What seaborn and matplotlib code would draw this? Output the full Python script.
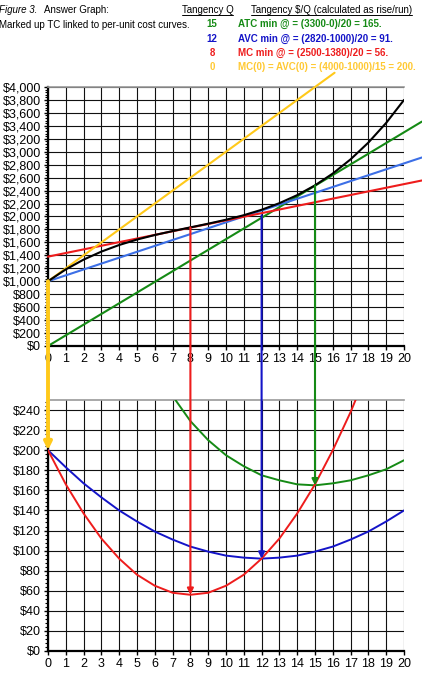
import matplotlib
matplotlib.use("Agg")
import matplotlib.pyplot as plt
from matplotlib.patches import ConnectionPatch
from matplotlib.lines import Line2D
from matplotlib.ticker import MultipleLocator, FuncFormatter
import numpy as np
import pandas as pd
import seaborn as sns

# ---------------- data ----------------
Q = list(range(0, 21))
TC = [1000, 1183, 1334, 1458, 1560, 1644, 1714, 1775, 1832, 1889, 1950,
      2020, 2104, 2206, 2330, 2481, 2664, 2883, 3142, 3446, 3800]
MC = [200, 166, 137, 112, 92, 76, 65, 58, 56, 58, 65, 76, 92, 112, 137,
      166, 200, 238, 281, 329, 380]
AVC = [200, 183, 167, 153, 140, 129, 119, 111, 104, 99, 95, 93, 92, 93, 95,
       99, 104, 111, 119, 129, 140]
Q_atc = [7, 8, 9, 10, 11, 12, 13, 14, 15, 16, 17, 18, 19, 20]
ATC = [254, 229, 210, 195, 184, 175, 170, 166, 165, 167, 170, 175, 181, 190]

# tangent (rise/run) lines on the TC panel: endpoints
tan_x = [0, 21]
atc_line = [0, 3465]
avc_line = [1000, 2911]
mc_line = [1380, 2556]
mc0_x = [0, 16.1]
mc0_line = [1000, 4220]

# drop lines: (Q, TC-panel value, per-unit value)
drops = [(8, 1832, 56), (12, 2020, 92), (15, 2481, 165), (0, 1000, 200)]

header_rows = [("15", "ATC min @ = (3300-0)/20 = 165."),
               ("12", "AVC min @ = (2820-1000)/20 = 91."),
               ("8", "MC min @ = (2500-1380)/20 = 56."),
               ("0", "MC(0) = AVC(0) = (4000-1000)/15 = 200.")]

x_ticks = list(range(0, 21))

# ---------------- style ----------------
sns.set_theme(style="white")
plt.rcParams["font.family"] = ["Liberation Sans", "DejaVu Sans"]
plt.rcParams["text.color"] = "black"

RED = "#EE1C1C"
GREEN = "#158A15"
DBLUE = "#1414C8"
LBLUE = "#3C6FE6"
YEL = "#FFC91A"
YEL_T = "#FFC933"

W, H = 422, 681
fig = plt.figure(figsize=(W / 100, H / 100), dpi=100)
fig.patch.set_facecolor("white")


def fx(px):
    return px / W


def fy(py):
    return 1 - py / H


ax1 = fig.add_axes([fx(48), fy(346), (404 - 48) / W, (346 - 87) / H])
ax2 = fig.add_axes([fx(48), fy(651), (404 - 48) / W, (651 - 400) / H])

money = FuncFormatter(lambda v, p: "\\$" + f"{v:,.0f}")

for ax, ymax, major, minor in [(ax1, 4000, 200, 40), (ax2, 250, 20, 4)]:
    ax.set_facecolor("white")
    ax.set_xlim(0, 20)
    ax.set_ylim(0, ymax)
    ax.set_xticks(x_ticks)
    ax.yaxis.set_major_locator(MultipleLocator(major))
    ax.yaxis.set_minor_locator(MultipleLocator(minor))
    ax.yaxis.set_major_formatter(money)
    ax.grid(True, which="major", color="#111111", linewidth=0.8)
    ax.set_axisbelow(True)
    ax.spines["right"].set_visible(False)
    ax.spines["top"].set_color("#9a9a9a")
    ax.spines["top"].set_linewidth(1.2)
    ax.spines["left"].set_color("black")
    ax.spines["bottom"].set_color("black")
    ax.spines["left"].set_linewidth(1.6)
    ax.spines["bottom"].set_linewidth(1.6)
    ax.tick_params(axis="both", which="major", direction="out", length=3,
                   width=1, color="black", labelsize=9, pad=2,
                   labelcolor="black", left=True, bottom=True)
    ax.tick_params(axis="y", which="minor", direction="out", length=2,
                   width=0.8, color="black", left=True)

# top panel: TC and tangent lines
sns.lineplot(x=tan_x, y=atc_line, ax=ax1, color=GREEN, lw=1.5, clip_on=False, zorder=3)
sns.lineplot(x=tan_x, y=avc_line, ax=ax1, color=LBLUE, lw=1.5, clip_on=False, zorder=3)
sns.lineplot(x=tan_x, y=mc_line, ax=ax1, color=RED, lw=1.5, clip_on=False, zorder=3)
sns.lineplot(x=mc0_x, y=mc0_line, ax=ax1, color=YEL, lw=1.5, clip_on=False, zorder=3)
sns.lineplot(x=Q, y=TC, ax=ax1, color="black", lw=1.5, zorder=4)

# bottom panel: per-unit cost curves
sns.lineplot(x=Q_atc, y=ATC, ax=ax2, color=GREEN, lw=1.4, zorder=3)
sns.lineplot(x=Q, y=AVC, ax=ax2, color=DBLUE, lw=1.4, zorder=3)
sns.lineplot(x=Q, y=MC, ax=ax2, color=RED, lw=1.4, zorder=3)

for ax in (ax1, ax2):
    ax.set_xlim(0, 20)
    ax.set_xlabel("")
    ax.set_ylabel("")
ax1.set_ylim(0, 4000)
ax2.set_ylim(0, 250)

# drop arrows between the panels
dcols = [RED, DBLUE, GREEN, YEL]
dlw = [1.5, 1.5, 1.5, 2.8]
for (q, top_v, bot_v), c, lw in zip(drops, dcols, dlw):
    con = ConnectionPatch(xyA=(q, top_v), coordsA=ax1.transData,
                          xyB=(q, bot_v), coordsB=ax2.transData,
                          arrowstyle="-|>", mutation_scale=9 if lw < 2 else 11,
                          shrinkA=0, shrinkB=0, color=c, lw=lw, zorder=10)
    fig.add_artist(con)

# header texts
hs = 7.0
fig.text(fx(-1), fy(10), "Figure 3.", fontsize=hs, style="italic", va="center", ha="left")
fig.text(fx(44), fy(10), "Answer Graph:", fontsize=hs, va="center", ha="left")
fig.text(fx(-1), fy(25), "Marked up TC linked to per-unit cost curves.", fontsize=hs,
         va="center", ha="left")
t1 = fig.text(fx(207.5), fy(10), "Tangency Q", fontsize=hs, va="center", ha="center")
t2 = fig.text(fx(251), fy(10), "Tangency \\$/Q (calculated as rise/run)", fontsize=hs,
              va="center", ha="left")

row_cols = [GREEN, DBLUE, RED, YEL_T]
row_y = [24, 38.5, 52.5, 66.5]
for (qtxt, txt), c, yy in zip(header_rows, row_cols, row_y):
    fig.text(fx(212), fy(yy), qtxt, fontsize=hs, color=c, weight="bold",
             va="center", ha="center")
    fig.text(fx(238), fy(yy), txt, fontsize=hs, color=c, weight="bold",
             va="center", ha="left")

fig.canvas.draw()
r = fig.canvas.get_renderer()
for t in (t1, t2):
    bb = t.get_window_extent(r).transformed(fig.transFigure.inverted())
    fig.add_artist(Line2D([bb.x0, bb.x1], [bb.y0 - 0.0005, bb.y0 - 0.0005],
                          transform=fig.transFigure, color="black", lw=0.7))

fig.savefig("out.png", dpi=100, facecolor="white")
